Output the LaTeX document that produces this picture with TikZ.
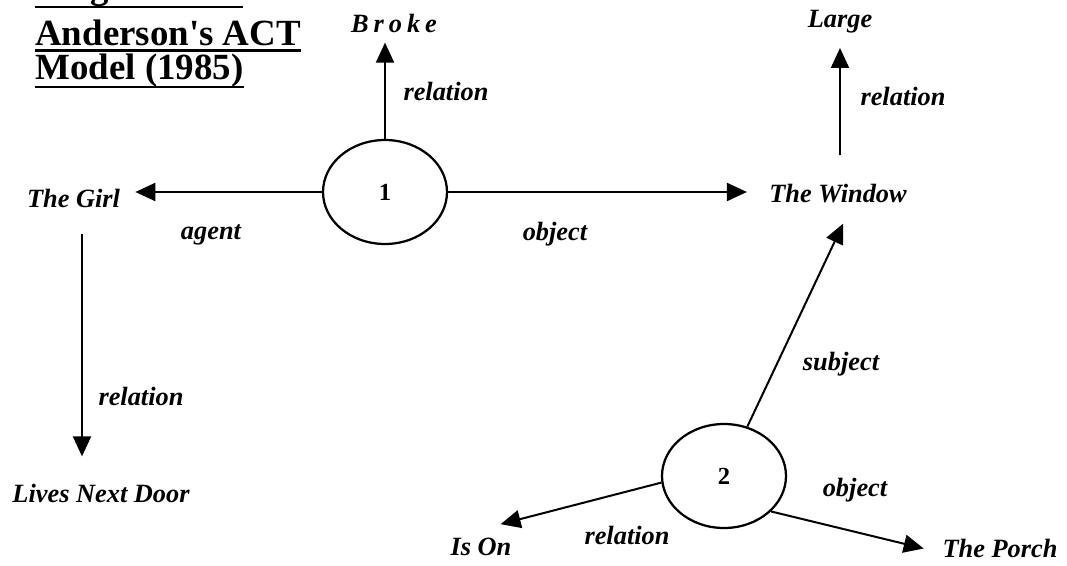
\documentclass[tikz,border=0pt]{standalone}
\usepackage{fontspec}
\setmainfont{Liberation Serif}
\usetikzlibrary{arrows.meta, shapes.geometric}

\begin{document}
\begin{tikzpicture}[
  x=0.2mm, y=-0.2mm,
  lbl/.style={font=\fontsize{15}{18}\selectfont\bfseries\itshape,
              inner sep=0pt, anchor=base},
  prop/.style={draw, ellipse, line width=0.45mm, minimum width=24.8mm,
               minimum height=20.8mm, inner sep=0pt,
               font=\fontsize{14}{16}\selectfont\bfseries},
  ttl/.style={font=\fontsize{21}{24}\selectfont\bfseries, inner sep=0pt,
              anchor=base west},
  uline/.style={line width=0.55mm},
  arr/.style={-{Triangle[length=4mm, width=3.6mm]}, line width=0.4mm}
]
\useasboundingbox (0,0) rectangle (1067,565);

% title
\node[ttl] (ttla) at (35,-1) {Diagram 2.2:};
\node[ttl] (ttlb) at (35,45) {Anderson\textquotesingle s ACT};
\node[ttl] (ttlc) at (35,79.5) {Model (1985)};
\draw[uline] ([yshift=-1.6mm]ttla.base west) -- ([yshift=-1.6mm]ttla.base east);
\draw[uline] ([yshift=-1.05mm]ttlb.base west) -- ([yshift=-1.05mm]ttlb.base east);
\draw[uline] ([yshift=-1.5mm]ttlc.base west) -- ([yshift=-1.5mm]ttlc.base east);

% propositions
\node[prop] (one) at (385,192) {1};
\node[prop] (two) at (724,476) {2};

% concepts
\node[lbl] (broke)  at (394,32)  {\addfontfeatures{LetterSpace=19}Broke};
\node[lbl] (girl)   at (73.5,207) {The Girl};
\node[lbl] (window) at (838,202) {The Window};
\node[lbl] (large)  at (840,27)  {Large};
\node[lbl] (door)   at (101,502) {Lives Next Door};
\node[lbl] (ison)   at (481,555) {Is On};
\node[lbl] (porch)  at (1000,557) {The Porch};

\draw[arr, shorten >=2mm] (one.north) -- (one.north |- broke.south);
\draw[arr, shorten >=3mm] (one.west) -- (one.west -| girl.east);
\draw[arr, shorten >=4.4mm] (one.east) -- (one.east -| window.west);
\draw[arr, shorten <=5.6mm, shorten >=3mm] (window.north -| large.south) -- (large.south);
\draw[arr, shorten <=5.2mm, shorten >=5.4mm] ([xshift=1.7mm]girl.south) -- ([xshift=1.7mm]girl.south |- door.north);
\draw[arr, shorten >=4.6mm] (two) -- ([xshift=3mm]window.south);
\draw[arr, shorten >=10.4mm] (two.186) -- (ison.north west);
\draw[arr, shorten >=3.8mm] (two.-37) -- ([yshift=-1mm]porch.west);

% link labels
\node[lbl] (rela) at (446,100) {relation};
\node[lbl] (agent) at (211,239) {agent};
\node[lbl] (obja) at (555,240) {object};
\node[lbl] (relb) at (141,405) {relation};
\node[lbl] (relc) at (903,105) {relation};
\node[lbl] (subj) at (841,370) {subject};
\node[lbl] (reld) at (627,544) {relation};
\node[lbl] (objb) at (855,496) {object};
\end{tikzpicture}
\end{document}
